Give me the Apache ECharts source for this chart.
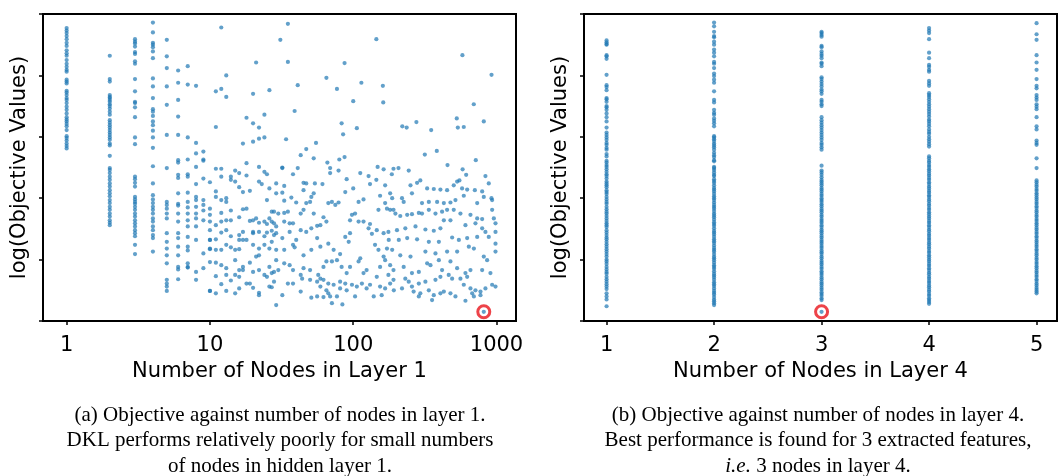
<!DOCTYPE html>
<html>
<head>
<meta charset="utf-8">
<script src="https://cdn.jsdelivr.net/npm/echarts@6/dist/echarts.min.js"></script>
<style>
html, body { margin: 0; padding: 0; background: #fff; }
#grafico { width: 1058px; height: 476px; }
</style>
</head>
<body>
<div id="grafico"></div>
<script>
// Valores: eje y = log(objetivo) en unidades arbitrarias (0..5, sin etiquetas)

// Panel (a): columnas con pocos nodos en la capa 1
const capa1Nodos1 = [4.77, 4.73, 4.69, 4.64, 4.59, 4.53, 4.48, 4.41, 4.36, 4.32, 4.25, 4.19, 4.14, 4.09, 4.06, 3.93, 3.90, 3.87, 3.75, 3.72, 3.68, 3.63, 3.60, 3.55, 3.49, 3.44, 3.38, 3.32, 3.28, 3.25, 3.21, 3.17, 3.11, 3.01, 2.98, 2.94, 2.89, 2.85, 2.81];
const capa1Nodos2 = [4.32, 3.94, 3.90, 3.68, 3.65, 3.63, 3.60, 3.57, 3.53, 3.50, 3.46, 3.41, 3.36, 3.27, 3.23, 3.19, 3.15, 3.11, 3.07, 3.03, 2.99, 2.95, 2.89, 2.86, 2.69, 2.49, 2.46, 2.41, 2.35, 2.30, 2.24, 2.19, 2.13, 2.08, 2.03, 1.97, 1.92, 1.86, 1.81, 1.75, 1.70, 1.64, 1.60, 1.56];
const capa1Nodos3 = [4.59, 4.55, 4.52, 4.47, 4.38, 4.35, 4.23, 4.19, 3.94, 3.74, 3.57, 3.55, 3.48, 3.32, 2.99, 2.88, 2.35, 2.31, 2.25, 2.19, 2.02, 1.98, 1.94, 1.91, 1.86, 1.81, 1.75, 1.70, 1.64, 1.59, 1.54, 1.48, 1.43, 1.38, 1.24, 1.09];
const capa1Nodos4 = [4.86, 4.70, 4.53, 4.50, 4.46, 4.39, 4.28, 3.95, 3.82, 3.63, 3.45, 3.41, 3.34, 3.25, 3.19, 3.10, 2.99, 2.82, 2.52, 2.24, 2.05, 1.98, 1.92, 1.86, 1.81, 1.75, 1.67, 1.62, 1.54, 1.48, 1.40, 1.35, 1.13];
const capa1Nodos5 = [4.58, 4.31, 4.12, 3.82, 3.52, 3.03, 2.49, 1.94, 1.89, 1.83, 1.75, 1.67, 1.43, 1.29, 1.18, 1.07, 0.94, 0.67, 0.61, 0.56, 0.49];
const capa1Nodos6 = [4.08, 3.88, 3.60, 3.33, 3.03, 2.62, 2.58, 2.38, 2.33, 2.08, 1.91, 1.88, 1.75, 1.62, 1.43, 1.35, 1.21, 1.07, 0.88, 0.84, 0.68];
const capa1Nodos7 = [4.15, 3.85, 2.99, 2.63, 2.39, 2.35, 2.09, 1.94, 1.85, 1.75, 1.64, 1.54, 1.37, 1.21, 1.15, 0.94, 0.88, 0.87];
const capa1Nodos8 = [3.83, 2.90, 2.73, 2.51, 2.23, 2.02, 1.97, 1.86, 1.75, 1.67, 1.54, 1.32, 0.80, 0.67];
const capa1Nodos9 = [2.76, 2.63, 2.61, 2.32, 1.97, 1.89, 1.80, 1.64, 1.10, 0.86];
const capa1Nodos10 = [2.26, 1.83, 1.73, 1.62, 1.48, 1.32, 1.18, 0.49, 1.32, 1.17, 0.96];

// Panel (a): resto de los puntos [nodos, log(objetivo)]
const capa1Dispersos = [
  [12, 4.78], [21, 4.21], [13, 4.00], [11, 3.74], [12, 3.78], [13, 3.65], [20, 3.70], [26, 3.76], [18, 3.31], [24, 3.36],
  [20, 3.22], [22, 3.15], [11, 3.16], [17, 2.89], [20, 2.92], [22, 2.97], [24, 2.99], [18, 2.57], [22, 2.51], [11, 2.48], [12, 2.48],
  [35, 4.84], [31, 4.58], [35, 4.22], [145, 4.59], [87, 4.20], [65, 3.96], [41, 3.84], [77, 3.78], [114, 3.88], [161, 3.83],
  [100, 3.58], [162, 3.56], [39, 3.42], [83, 3.22], [85, 3.04], [106, 3.14], [34, 2.96], [55, 2.90], [47, 2.80], [43, 2.70],
  [53, 2.65], [66, 2.58], [80, 2.63], [87, 2.67], [32, 2.49], [41, 2.49], [148, 2.51], [163, 2.47], [191, 2.48],
  [578, 4.33], [923, 4.01], [694, 3.53], [528, 3.30], [815, 3.25], [220, 3.17], [236, 3.15], [276, 3.24], [350, 3.11], [537, 3.15],
  [591, 3.16], [316, 2.71], [383, 2.77], [455, 2.54], [717, 2.62], [207, 2.49], [580, 2.47],
  [14, 2.35], [15, 2.45], [16, 2.41], [18, 2.37], [24, 2.43], [25, 2.39], [22, 2.27], [23, 2.23], [15, 2.27], [16, 2.18],
  [17, 2.10], [19, 2.12], [14, 2.30], [12, 2.35], [11, 2.11], [11, 2.02], [12, 1.97], [13, 2.00], [13, 1.94], [14, 1.80],
  [12, 1.76], [11, 1.56], [12, 1.62], [13, 1.64], [14, 1.64], [16, 1.69], [17, 1.82], [18, 1.83], [19, 1.63], [20, 1.64],
  [21, 1.67], [22, 1.60], [24, 1.62], [25, 1.58], [27, 1.62], [27, 1.78], [25, 1.97], [20, 1.45], [20, 1.43], [22, 1.45],
  [24, 1.38], [25, 1.44], [27, 1.47], [28, 1.40], [17, 1.45], [16, 1.40], [14, 1.38], [13, 1.48], [12, 1.44], [11, 1.33],
  [11, 1.16], [12, 1.16], [13, 1.24], [14, 1.20], [16, 1.32], [17, 1.32], [18, 1.32], [15, 1.16], [16, 1.17],
  [20, 1.24], [22, 1.18], [24, 1.24], [22, 1.07], [21, 1.05], [19, 0.95], [17, 0.88], [16, 0.83], [17, 0.83], [15, 0.99],
  [13, 0.86], [12, 0.91], [11, 0.95], [11, 0.73], [12, 0.60], [13, 0.75], [14, 0.66], [15, 0.75], [16, 0.72], [16, 0.53],
  [18, 0.61], [19, 0.61], [20, 0.80], [22, 0.83], [24, 0.75], [25, 0.72], [27, 0.78], [28, 0.80], [20, 0.54], [22, 0.46],
  [22, 0.42], [26, 0.56], [27, 0.55], [10, 0.49], [11, 0.45], [13, 0.49], [15, 0.45],
  [32, 2.50], [38, 2.39], [45, 2.25], [47, 2.24], [54, 2.24], [61, 2.23], [29, 2.24], [33, 2.20], [26, 2.16], [29, 2.08],
  [32, 2.09], [45, 2.13], [69, 2.49], [79, 2.45], [69, 2.41], [90, 2.31], [100, 2.16], [112, 2.41], [128, 2.36], [145, 2.30],
  [131, 2.23], [167, 2.21], [186, 2.39], [181, 2.08], [154, 2.04], [118, 1.98], [109, 1.94], [88, 2.10], [79, 1.93], [71, 1.94],
  [67, 1.92], [75, 1.89], [50, 1.94], [47, 1.92], [51, 2.02], [53, 2.08], [37, 2.01], [33, 1.96], [40, 1.93], [35, 1.78],
  [33, 1.76], [30, 1.75], [28, 1.78], [26, 1.67], [28, 1.59], [29, 1.54], [33, 1.62], [36, 1.59], [38, 1.59], [43, 1.75],
  [45, 1.81], [53, 1.75], [62, 1.69], [65, 1.62], [59, 1.56], [56, 1.55], [51, 1.51], [47, 1.45], [43, 1.48], [36, 1.45],
  [32, 1.35], [29, 1.43], [27, 1.29], [26, 1.18], [29, 1.16], [33, 1.16], [38, 1.24], [40, 1.32], [39, 1.20], [45, 1.07],
  [51, 1.16], [56, 1.35], [59, 1.21], [67, 1.26], [73, 1.16], [81, 1.09], [88, 1.37], [95, 1.43], [93, 1.29], [103, 1.75],
  [98, 1.73], [95, 1.64], [109, 1.62], [118, 1.62], [131, 1.58], [128, 1.51], [135, 1.42], [146, 1.48], [163, 1.43], [176, 1.45],
  [181, 1.81], [172, 1.83], [191, 1.81], [167, 1.92], [150, 1.81], [172, 1.18], [163, 1.05], [150, 1.16], [142, 1.24], [167, 0.99],
  [154, 0.88], [181, 0.91], [191, 0.83], [176, 0.75], [146, 0.72], [124, 0.83], [118, 0.78], [112, 1.02], [109, 0.97], [95, 0.88],
  [90, 0.78], [83, 0.88], [77, 0.99], [71, 0.97], [65, 0.97], [62, 0.88], [57, 0.75], [59, 0.69], [56, 0.64], [50, 0.83],
  [45, 0.86], [43, 0.75], [38, 0.83], [36, 0.91], [33, 0.94], [29, 0.99], [26, 0.88], [30, 0.83], [28, 0.64], [35, 0.61],
  [38, 0.61], [44, 0.69], [50, 0.67], [62, 0.67], [67, 0.61], [73, 0.59], [81, 0.64], [88, 0.61], [98, 0.59], [106, 0.56],
  [115, 0.61], [124, 0.53], [131, 0.59], [154, 0.56], [167, 0.53], [181, 0.61], [191, 0.67], [32, 0.42], [29, 0.26], [43, 0.48],
  [51, 0.38], [56, 0.40], [62, 0.39], [67, 0.45], [69, 0.40], [71, 0.29], [77, 0.40], [84, 0.27], [90, 0.50], [103, 0.40],
  [139, 0.40], [158, 0.42], [59, 0.56], [65, 0.50], [81, 0.53],
  [244, 2.45], [614, 2.38], [837, 2.36], [883, 2.24], [251, 2.21], [279, 2.25], [294, 2.29], [328, 2.16], [365, 2.15], [406, 2.14],
  [452, 2.13], [503, 2.21], [531, 2.27], [551, 2.29], [575, 2.16], [624, 2.14], [706, 2.13], [794, 2.11], [815, 2.02], [922, 2.00],
  [932, 1.97], [187, 2.00], [219, 2.00], [225, 1.94], [257, 2.08], [302, 1.92], [337, 1.94], [385, 1.94], [429, 1.92], [477, 1.93],
  [517, 1.97], [591, 2.04], [733, 1.92], [197, 1.75], [213, 1.71], [238, 1.73], [257, 1.74], [287, 1.76], [302, 1.75], [337, 1.81],
  [375, 1.75], [417, 1.78], [452, 1.81], [503, 1.81], [560, 1.75], [658, 1.73], [733, 1.67], [794, 1.66], [932, 1.81], [958, 1.67],
  [984, 1.59], [202, 1.48], [231, 1.51], [272, 1.54], [319, 1.49], [365, 1.47], [406, 1.51], [429, 1.64], [477, 1.64], [607, 1.56],
  [713, 1.59], [794, 1.51], [837, 1.45], [984, 1.45], [177, 1.32], [208, 1.32], [238, 1.35], [279, 1.33], [337, 1.29], [396, 1.29],
  [490, 1.36], [546, 1.32], [624, 1.35], [733, 1.37], [883, 1.37], [984, 1.26], [984, 1.13], [187, 1.16], [213, 1.07], [251, 1.05],
  [319, 1.13], [375, 1.10], [452, 1.13], [531, 1.13], [641, 1.21], [695, 1.18], [815, 1.05], [860, 0.99], [225, 0.88], [257, 0.78],
  [287, 0.80], [328, 0.94], [346, 0.91], [396, 0.99], [417, 0.83], [477, 0.97], [531, 0.86], [607, 0.78], [658, 0.83], [794, 0.83],
  [907, 0.78], [984, 0.56], [932, 0.59], [231, 0.69], [244, 0.64], [257, 0.56], [287, 0.61], [319, 0.64], [375, 0.67], [406, 0.72],
  [464, 0.75], [490, 0.69], [560, 0.69], [591, 0.59], [624, 0.72], [658, 0.53], [713, 0.50], [773, 0.48], [837, 0.53], [192, 0.50],
  [219, 0.53], [264, 0.48], [294, 0.45], [337, 0.50], [365, 0.42], [406, 0.45], [429, 0.48], [477, 0.45], [517, 0.40], [607, 0.33],
  [676, 0.45], [695, 0.40], [773, 0.42], [355, 0.34], [287, 0.40], [815, 0.15]
];
const mejorCapa1 = [[815, 0.15]];

// Panel (b): nodos en la capa 4
const capa4Nodos1 = [4.57, 4.54, 4.51, 4.50, 4.33, 4.31, 4.27, 4.01, 3.84, 3.81, 3.76, 3.63, 3.61, 3.57, 3.50, 3.48, 3.44, 3.38, 3.32, 3.25, 3.15, 3.07, 3.03, 2.99, 2.95, 2.90, 2.87, 2.82, 2.79, 2.72, 2.68, 2.61, 2.58, 2.54, 2.51, 2.47, 2.43, 2.39, 2.36, 2.32, 2.27, 2.24, 2.21, 2.18, 2.13, 2.10, 2.07, 2.02, 1.98, 1.94, 1.91, 1.86, 1.82, 1.78, 1.75, 1.71, 1.67, 1.63, 1.59, 1.56, 1.53, 1.48, 1.44, 1.40, 1.36, 1.33, 1.29, 1.25, 1.21, 1.17, 1.13, 1.09, 1.05, 1.00, 0.97, 0.93, 0.88, 0.84, 0.80, 0.77, 0.72, 0.68, 0.64, 0.60, 0.56, 0.52, 0.45, 0.40, 0.35, 0.24];
const capa4Nodos2 = [4.86, 4.80, 4.71, 4.64, 4.62, 4.55, 4.50, 4.42, 4.37, 4.31, 4.22, 4.19, 4.12, 4.03, 3.99, 3.93, 3.88, 3.74, 3.60, 3.56, 3.44, 3.39, 3.36, 3.30, 3.26, 3.22, 3.17, 3.01, 2.99, 2.96, 2.93, 2.89, 2.86, 2.83, 2.79, 2.74, 2.70, 2.67, 2.62, 2.60, 2.51, 2.49, 2.46, 2.42, 2.38, 2.36, 2.31, 2.28, 2.25, 2.21, 2.17, 2.14, 2.11, 2.07, 2.03, 2.00, 1.97, 1.93, 1.89, 1.86, 1.83, 1.79, 1.75, 1.72, 1.69, 1.65, 1.61, 1.58, 1.55, 1.51, 1.47, 1.44, 1.41, 1.37, 1.33, 1.30, 1.27, 1.23, 1.19, 1.16, 1.13, 1.09, 1.05, 1.02, 0.99, 0.95, 0.91, 0.88, 0.85, 0.81, 0.77, 0.74, 0.71, 0.67, 0.63, 0.60, 0.57, 0.53, 0.49, 0.46, 0.43, 0.39, 0.35, 0.32, 0.29, 0.26];
const capa4Nodos3 = [4.71, 4.69, 4.66, 4.63, 4.48, 4.46, 4.39, 4.35, 4.32, 4.28, 4.21, 4.19, 4.15, 3.97, 3.94, 3.90, 3.86, 3.82, 3.77, 3.74, 3.70, 3.60, 3.57, 3.53, 3.50, 3.32, 3.27, 3.23, 3.19, 3.15, 3.11, 3.07, 3.03, 2.99, 2.95, 2.90, 2.87, 2.83, 2.79, 2.53, 2.45, 2.42, 2.38, 2.34, 2.30, 2.27, 2.24, 2.21, 2.17, 2.14, 2.11, 2.07, 2.04, 2.00, 1.97, 1.94, 1.90, 1.87, 1.83, 1.80, 1.77, 1.73, 1.70, 1.66, 1.63, 1.60, 1.56, 1.53, 1.49, 1.46, 1.43, 1.39, 1.36, 1.32, 1.29, 1.26, 1.22, 1.19, 1.15, 1.12, 1.09, 1.05, 1.02, 0.98, 0.95, 0.92, 0.88, 0.85, 0.81, 0.78, 0.75, 0.71, 0.68, 0.64, 0.61, 0.58, 0.54, 0.51, 0.47, 0.44, 0.41, 0.37, 0.34, 0.15];
const capa4Nodos4 = [4.77, 4.73, 4.69, 4.59, 4.37, 4.28, 4.17, 4.14, 4.09, 4.06, 3.91, 3.87, 3.83, 3.71, 3.68, 3.65, 3.61, 3.57, 3.53, 3.49, 3.45, 3.41, 3.37, 3.33, 3.28, 3.25, 3.21, 3.17, 3.12, 3.08, 3.05, 3.00, 2.96, 2.92, 2.88, 2.84, 2.68, 2.65, 2.61, 2.58, 2.54, 2.51, 2.47, 2.44, 2.40, 2.37, 2.33, 2.30, 2.26, 2.23, 2.19, 2.16, 2.12, 2.09, 2.05, 2.02, 1.98, 1.95, 1.91, 1.88, 1.84, 1.81, 1.77, 1.74, 1.70, 1.67, 1.63, 1.60, 1.56, 1.53, 1.49, 1.46, 1.42, 1.39, 1.35, 1.32, 1.28, 1.25, 1.21, 1.18, 1.14, 1.11, 1.07, 1.04, 1.00, 0.97, 0.93, 0.90, 0.86, 0.83, 0.79, 0.76, 0.72, 0.69, 0.65, 0.62, 0.58, 0.55, 0.51, 0.48, 0.44, 0.41, 0.37, 0.34, 0.31, 0.28];
const capa4Nodos5 = [4.85, 4.67, 4.58, 4.33, 4.21, 4.09, 3.94, 3.83, 3.79, 3.68, 3.64, 3.60, 3.53, 3.49, 3.45, 3.32, 3.17, 3.12, 2.94, 2.90, 2.87, 2.65, 2.49, 2.29, 2.26, 2.22, 2.19, 2.15, 2.12, 2.08, 2.05, 2.01, 1.98, 1.94, 1.91, 1.87, 1.84, 1.80, 1.77, 1.73, 1.70, 1.66, 1.63, 1.59, 1.56, 1.52, 1.49, 1.45, 1.42, 1.38, 1.35, 1.31, 1.28, 1.24, 1.21, 1.17, 1.14, 1.10, 1.07, 1.03, 1.00, 0.96, 0.93, 0.89, 0.86, 0.82, 0.79, 0.75, 0.72, 0.68, 0.65, 0.61, 0.58, 0.54, 0.51, 0.48, 0.45];
const mejorCapa4 = [[3, 0.15]];

const marcasCapa1 = [0, 1, 2, 3];          // log10 de 1, 10, 100, 1000
const marcasCapa4 = [1, 2, 3, 4, 5];

const colorPunto = 'rgba(31,119,180,0.88)';
const fuenteEje = 'DejaVu Sans';

function armarColumnas(lista) {
  const puntos = [];
  lista.forEach(([nodos, valores]) => {
    valores.forEach(v => puntos.push([nodos, v]));
  });
  return puntos;
}

const puntosCapa1 = armarColumnas([
  [1, capa1Nodos1], [2, capa1Nodos2], [3, capa1Nodos3], [4, capa1Nodos4], [5, capa1Nodos5],
  [6, capa1Nodos6], [7, capa1Nodos7], [8, capa1Nodos8], [9, capa1Nodos9], [10, capa1Nodos10]
]).concat(capa1Dispersos).map(([n, v]) => [Math.log10(n), v]);

const puntosCapa4 = armarColumnas([
  [1, capa4Nodos1], [2, capa4Nodos2], [3, capa4Nodos3], [4, capa4Nodos4], [5, capa4Nodos5]
]);

function ejeY(grid) {
  return {
    gridIndex: grid,
    type: 'value',
    min: 0,
    max: 5,
    interval: 1,
    name: 'log(Objective Values)',
    nameLocation: 'middle',
    nameGap: 13,
    nameTextStyle: { fontFamily: fuenteEje, fontSize: 21, color: '#000' },
    axisLine: { show: true, onZero: false, lineStyle: { color: '#000', width: 2 } },
    axisTick: { show: true, length: 4, lineStyle: { color: '#000', width: 1.5 } },
    axisLabel: { show: false },
    splitLine: { show: false }
  };
}

function ejeX(grid, min, max, marcas, nombre, formato) {
  return {
    gridIndex: grid,
    type: 'value',
    min: min,
    max: max,
    name: nombre,
    nameLocation: 'middle',
    nameGap: 39,
    nameTextStyle: { fontFamily: fuenteEje, fontSize: 21, color: '#000' },
    axisLine: { show: true, onZero: false, lineStyle: { color: '#000', width: 2 } },
    axisTick: { show: true, length: 4, customValues: marcas, lineStyle: { color: '#000', width: 1.5 } },
    axisLabel: { customValues: marcas, formatter: formato, fontFamily: fuenteEje, fontSize: 21, color: '#000', margin: 14 },
    splitLine: { show: false }
  };
}

function leyenda(x, y, texto) {
  return {
    type: 'text',
    style: {
      x: x, y: y, text: texto,
      align: 'center', verticalAlign: 'middle',
      fontFamily: 'Liberation Serif', fontSize: 21, fill: '#000',
      rich: { i: { fontStyle: 'italic', fontFamily: 'Liberation Serif', fontSize: 21 } }
    }
  };
}

const grafico = echarts.init(document.getElementById('grafico'));

grafico.setOption({
  animation: false,
  backgroundColor: '#fff',
  grid: [
    { left: 43, right: 542, top: 14, bottom: 155, show: true, borderColor: '#000', borderWidth: 2 },
    { left: 584, right: 1, top: 14, bottom: 155, show: true, borderColor: '#000', borderWidth: 2 }
  ],
  xAxis: [
    ejeX(0, -0.165, 3.136, marcasCapa1, 'Number of Nodes in Layer 1', v => String(Math.round(Math.pow(10, v)))),
    ejeX(1, 0.79, 5.19, marcasCapa4, 'Number of Nodes in Layer 4', v => String(v))
  ],
  yAxis: [ejeY(0), ejeY(1)],
  series: [
    {
      type: 'scatter', xAxisIndex: 0, yAxisIndex: 0,
      data: puntosCapa1, symbolSize: 4.2,
      itemStyle: { color: colorPunto }
    },
    {
      type: 'scatter', xAxisIndex: 1, yAxisIndex: 1,
      data: puntosCapa4, symbolSize: 4.2,
      itemStyle: { color: colorPunto }
    },
    {
      type: 'scatter', xAxisIndex: 0, yAxisIndex: 0,
      data: mejorCapa1.map(([n, v]) => [Math.log10(n), v]),
      symbol: 'circle', symbolSize: 12,
      itemStyle: { color: 'transparent', borderColor: '#e8141c', borderWidth: 3 },
      z: 5
    },
    {
      type: 'scatter', xAxisIndex: 1, yAxisIndex: 1,
      data: mejorCapa4, symbol: 'circle', symbolSize: 12,
      itemStyle: { color: 'transparent', borderColor: '#e8141c', borderWidth: 3 },
      z: 5
    }
  ],
  graphic: [
    leyenda(280, 415, '(a) Objective against number of nodes in layer 1.'),
    leyenda(280, 440, 'DKL performs relatively poorly for small numbers'),
    leyenda(280, 466, 'of nodes in hidden layer 1.'),
    leyenda(818, 415, '(b) Objective against number of nodes in layer 4.'),
    leyenda(818, 440, 'Best performance is found for 3 extracted features,'),
    leyenda(818, 466, '{i|i.e.} 3 nodes in layer 4.')
  ]
});

window.addEventListener('resize', () => grafico.resize());
</script>
</body>
</html>
